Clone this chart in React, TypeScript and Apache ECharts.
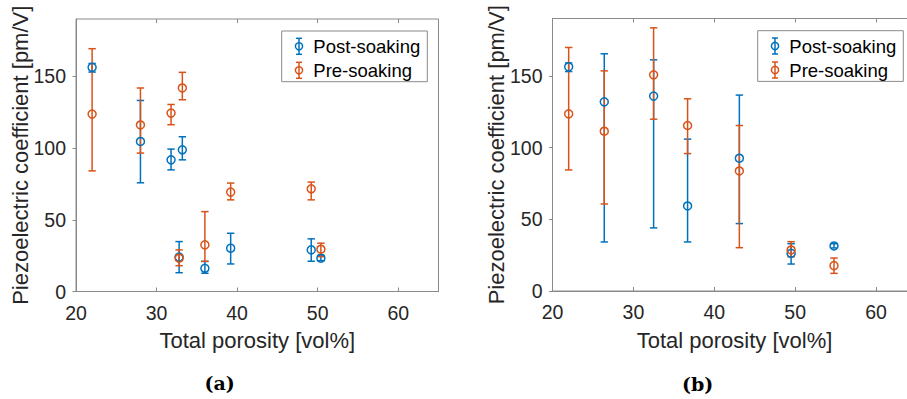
import React, { useEffect, useRef } from "react";
import * as echarts from "echarts";

const BLUE = "#0072BD";
const ORANGE = "#D95319";
const AXIS_GRAY = "#8a8a8a";
const TEXT_DARK = "#262626";
const SANS = "Liberation Sans, Arial, Helvetica, sans-serif";

// Panel (a): porosity [vol%] vs piezoelectric coefficient [pm/V]
const porosityA = [22.0, 28.0, 31.8, 32.8, 33.2, 36.0, 39.2, 49.2, 50.4];
const postA = [156.3, 104.6, 91.8, 24.0, 98.8, 16.2, 30.2, 29.0, 23.2];
const postALow = [153.0, 75.8, 84.8, 13.1, 91.8, 12.7, 19.2, 21.1, 21.5];
const postAHigh = [159.0, 133.2, 99.3, 34.8, 107.9, 21.0, 40.6, 36.7, 25.0];
const preA = [123.7, 116.1, 124.4, 23.2, 141.9, 32.5, 69.3, 71.6, 29.5];
const preALow = [84.1, 96.5, 116.3, 18.0, 133.7, 21.0, 63.9, 63.9, 24.3];
const preAHigh = [169.3, 141.9, 130.4, 29.0, 152.8, 55.7, 75.6, 76.3, 33.7];

// Panel (b)
const porosityB = [22.0, 26.4, 32.5, 36.7, 43.1, 49.5, 54.8];
const postB = [156.3, 131.9, 135.9, 59.3, 92.6, 26.3, 31.4];
const postBLow = [153.0, 34.2, 44.0, 34.2, 47.0, 18.8, 30.0];
const postBHigh = [159.0, 165.4, 161.2, 105.9, 136.6, 33.0, 33.0];
const preB = [123.5, 111.4, 150.7, 115.4, 83.7, 28.6, 17.7];
const preBLow = [84.4, 60.7, 119.8, 95.8, 30.2, 23.9, 12.3];
const preBHigh = [169.8, 153.5, 183.5, 134.0, 115.4, 34.4, 23.0];

const xTicks = [20, 30, 40, 50, 60];
const yTicks = [0, 50, 100, 150];
const seriesNames = ["Post-soaking", "Pre-soaking"];
const seriesColors = [BLUE, ORANGE];
const panelLabels = ["(a)", "(b)"];
const xTitle = "Total porosity [vol%]";
const yTitle = "Piezoelectric coefficient [pm/V]";

const grids = [
  { left: 76, top: 19, width: 362.5, height: 272.5 },
  { left: 552.5, top: 18.5, width: 364, height: 272.5 },
];
const legendBoxes = [
  { x: 281.7, y: 31 },
  { x: 757.7, y: 30.7 },
];
const captionPos = [
  { x: 219.7, y: 383 },
  { x: 697.7, y: 383.5 },
];

function errorSeries(
  name: string,
  color: string,
  xs: number[],
  lows: number[],
  highs: number[],
  xAxisIndex: number,
  yAxisIndex: number
) {
  return {
    type: "custom",
    name,
    xAxisIndex,
    yAxisIndex,
    silent: true,
    encode: { x: 0, y: [1, 2] },
    data: xs.map((x, i) => [x, lows[i], highs[i]]),
    renderItem: (_params: any, api: any) => {
      const x = api.value(0);
      const pLo = api.coord([x, api.value(1)]);
      const pHi = api.coord([x, api.value(2)]);
      const hw = 3.7;
      const style = { stroke: color, lineWidth: 1.5, fill: "none" };
      return {
        type: "group",
        children: [
          { type: "line", shape: { x1: pLo[0], y1: pLo[1], x2: pHi[0], y2: pHi[1] }, style },
          { type: "line", shape: { x1: pLo[0] - hw, y1: pLo[1], x2: pLo[0] + hw, y2: pLo[1] }, style },
          { type: "line", shape: { x1: pHi[0] - hw, y1: pHi[1], x2: pHi[0] + hw, y2: pHi[1] }, style },
        ],
      };
    },
  };
}

function markerSeries(
  name: string,
  color: string,
  xs: number[],
  ys: number[],
  xAxisIndex: number,
  yAxisIndex: number
) {
  return {
    type: "scatter",
    name,
    xAxisIndex,
    yAxisIndex,
    silent: true,
    symbol: "circle",
    symbolSize: 8,
    itemStyle: { color: "rgba(0,0,0,0)", borderColor: color, borderWidth: 1.5, opacity: 1 },
    data: xs.map((x, i) => [x, ys[i]]),
  };
}

function bottomXAxis(gridIndex: number) {
  return {
    type: "value",
    gridIndex,
    min: 20,
    max: 65,
    position: "bottom",
    axisLine: { show: true, lineStyle: { color: AXIS_GRAY, width: 1 } },
    axisTick: { show: true, inside: true, length: 4, customValues: xTicks, lineStyle: { color: AXIS_GRAY } },
    axisLabel: { customValues: xTicks, fontSize: 19.5, color: TEXT_DARK, fontFamily: SANS, margin: 11 },
    splitLine: { show: false },
    name: xTitle,
    nameLocation: "middle",
    nameGap: 38,
    nameMoveOverlap: false,
    nameTextStyle: { fontSize: 22, color: TEXT_DARK, fontFamily: SANS },
  };
}

function topXAxis(gridIndex: number) {
  return {
    type: "value",
    gridIndex,
    min: 20,
    max: 65,
    position: "top",
    axisLine: { show: false },
    axisTick: { show: true, inside: true, length: 4, customValues: xTicks, lineStyle: { color: AXIS_GRAY } },
    axisLabel: { show: false },
    splitLine: { show: false },
  };
}

function leftYAxis(gridIndex: number) {
  return {
    type: "value",
    gridIndex,
    min: 0,
    max: 190,
    axisLine: { show: true, lineStyle: { color: AXIS_GRAY, width: 1 } },
    axisTick: { show: true, inside: false, length: 3.5, customValues: yTicks, lineStyle: { color: AXIS_GRAY } },
    axisLabel: { customValues: yTicks, fontSize: 19.5, color: TEXT_DARK, fontFamily: SANS, margin: 10 },
    splitLine: { show: false },
    name: yTitle,
    nameLocation: "middle",
    nameGap: 45,
    nameMoveOverlap: false,
    nameTextStyle: { fontSize: 22, color: TEXT_DARK, fontFamily: SANS },
  };
}

function legendGraphic(box: { x: number; y: number }) {
  const children: any[] = [
    {
      type: "rect",
      shape: { x: box.x, y: box.y, width: 145.6, height: 50.7 },
      style: { fill: "#ffffff", stroke: AXIS_GRAY, lineWidth: 1 },
    },
  ];
  seriesNames.forEach((name, i) => {
    const cy = box.y + 15.3 + 24 * i;
    const cx = box.x + 17.3;
    const color = seriesColors[i];
    const style = { stroke: color, lineWidth: 1.5, fill: "none" };
    children.push(
      { type: "line", shape: { x1: cx, y1: cy - 8, x2: cx, y2: cy + 8 }, style },
      { type: "line", shape: { x1: cx - 3, y1: cy - 8, x2: cx + 3, y2: cy - 8 }, style },
      { type: "line", shape: { x1: cx - 3, y1: cy + 8, x2: cx + 3, y2: cy + 8 }, style },
      { type: "circle", shape: { cx, cy, r: 3.6 }, style },
      {
        type: "text",
        x: box.x + 31.6,
        y: cy,
        style: {
          text: name,
          fontSize: 18.5,
          fontFamily: SANS,
          fill: "#000000",
          verticalAlign: "middle",
          align: "left",
        },
      }
    );
  });
  return { type: "group", z: 100, children };
}

export default function App() {
  const ref = useRef<HTMLDivElement>(null);

  useEffect(() => {
    if (!ref.current) return;
    const chart = echarts.init(ref.current, undefined, { renderer: "svg" });

    const option: any = {
      animation: false,
      backgroundColor: "#ffffff",
      grid: grids.map((g) => ({
        ...g,
        show: true,
        borderColor: AXIS_GRAY,
        borderWidth: 1,
        backgroundColor: "rgba(0,0,0,0)",
        containLabel: false,
        outerBoundsMode: "none",
      })),
      xAxis: [bottomXAxis(0), topXAxis(0), bottomXAxis(1), topXAxis(1)],
      yAxis: [leftYAxis(0), leftYAxis(1)],
      series: [
        errorSeries(seriesNames[0], BLUE, porosityA, postALow, postAHigh, 0, 0),
        markerSeries(seriesNames[0], BLUE, porosityA, postA, 0, 0),
        errorSeries(seriesNames[1], ORANGE, porosityA, preALow, preAHigh, 0, 0),
        markerSeries(seriesNames[1], ORANGE, porosityA, preA, 0, 0),
        errorSeries(seriesNames[0], BLUE, porosityB, postBLow, postBHigh, 2, 1),
        markerSeries(seriesNames[0], BLUE, porosityB, postB, 2, 1),
        errorSeries(seriesNames[1], ORANGE, porosityB, preBLow, preBHigh, 2, 1),
        markerSeries(seriesNames[1], ORANGE, porosityB, preB, 2, 1),
      ],
      graphic: [
        ...legendBoxes.map(legendGraphic),
        ...panelLabels.map((label, i) => ({
          type: "text",
          x: captionPos[i].x,
          y: captionPos[i].y,
          style: {
            text: label,
            fontSize: 19,
            fontWeight: "bold",
            fontFamily: "DejaVu Serif, serif",
            fill: "#000000",
            align: "center",
            verticalAlign: "middle",
          },
        })),
      ],
    };

    chart.setOption(option);
    return () => chart.dispose();
  }, []);

  return (
    <div
      ref={ref}
      style={{ position: "fixed", left: 0, top: 0, width: 907, height: 399, background: "#fff" }}
    />
  );
}
